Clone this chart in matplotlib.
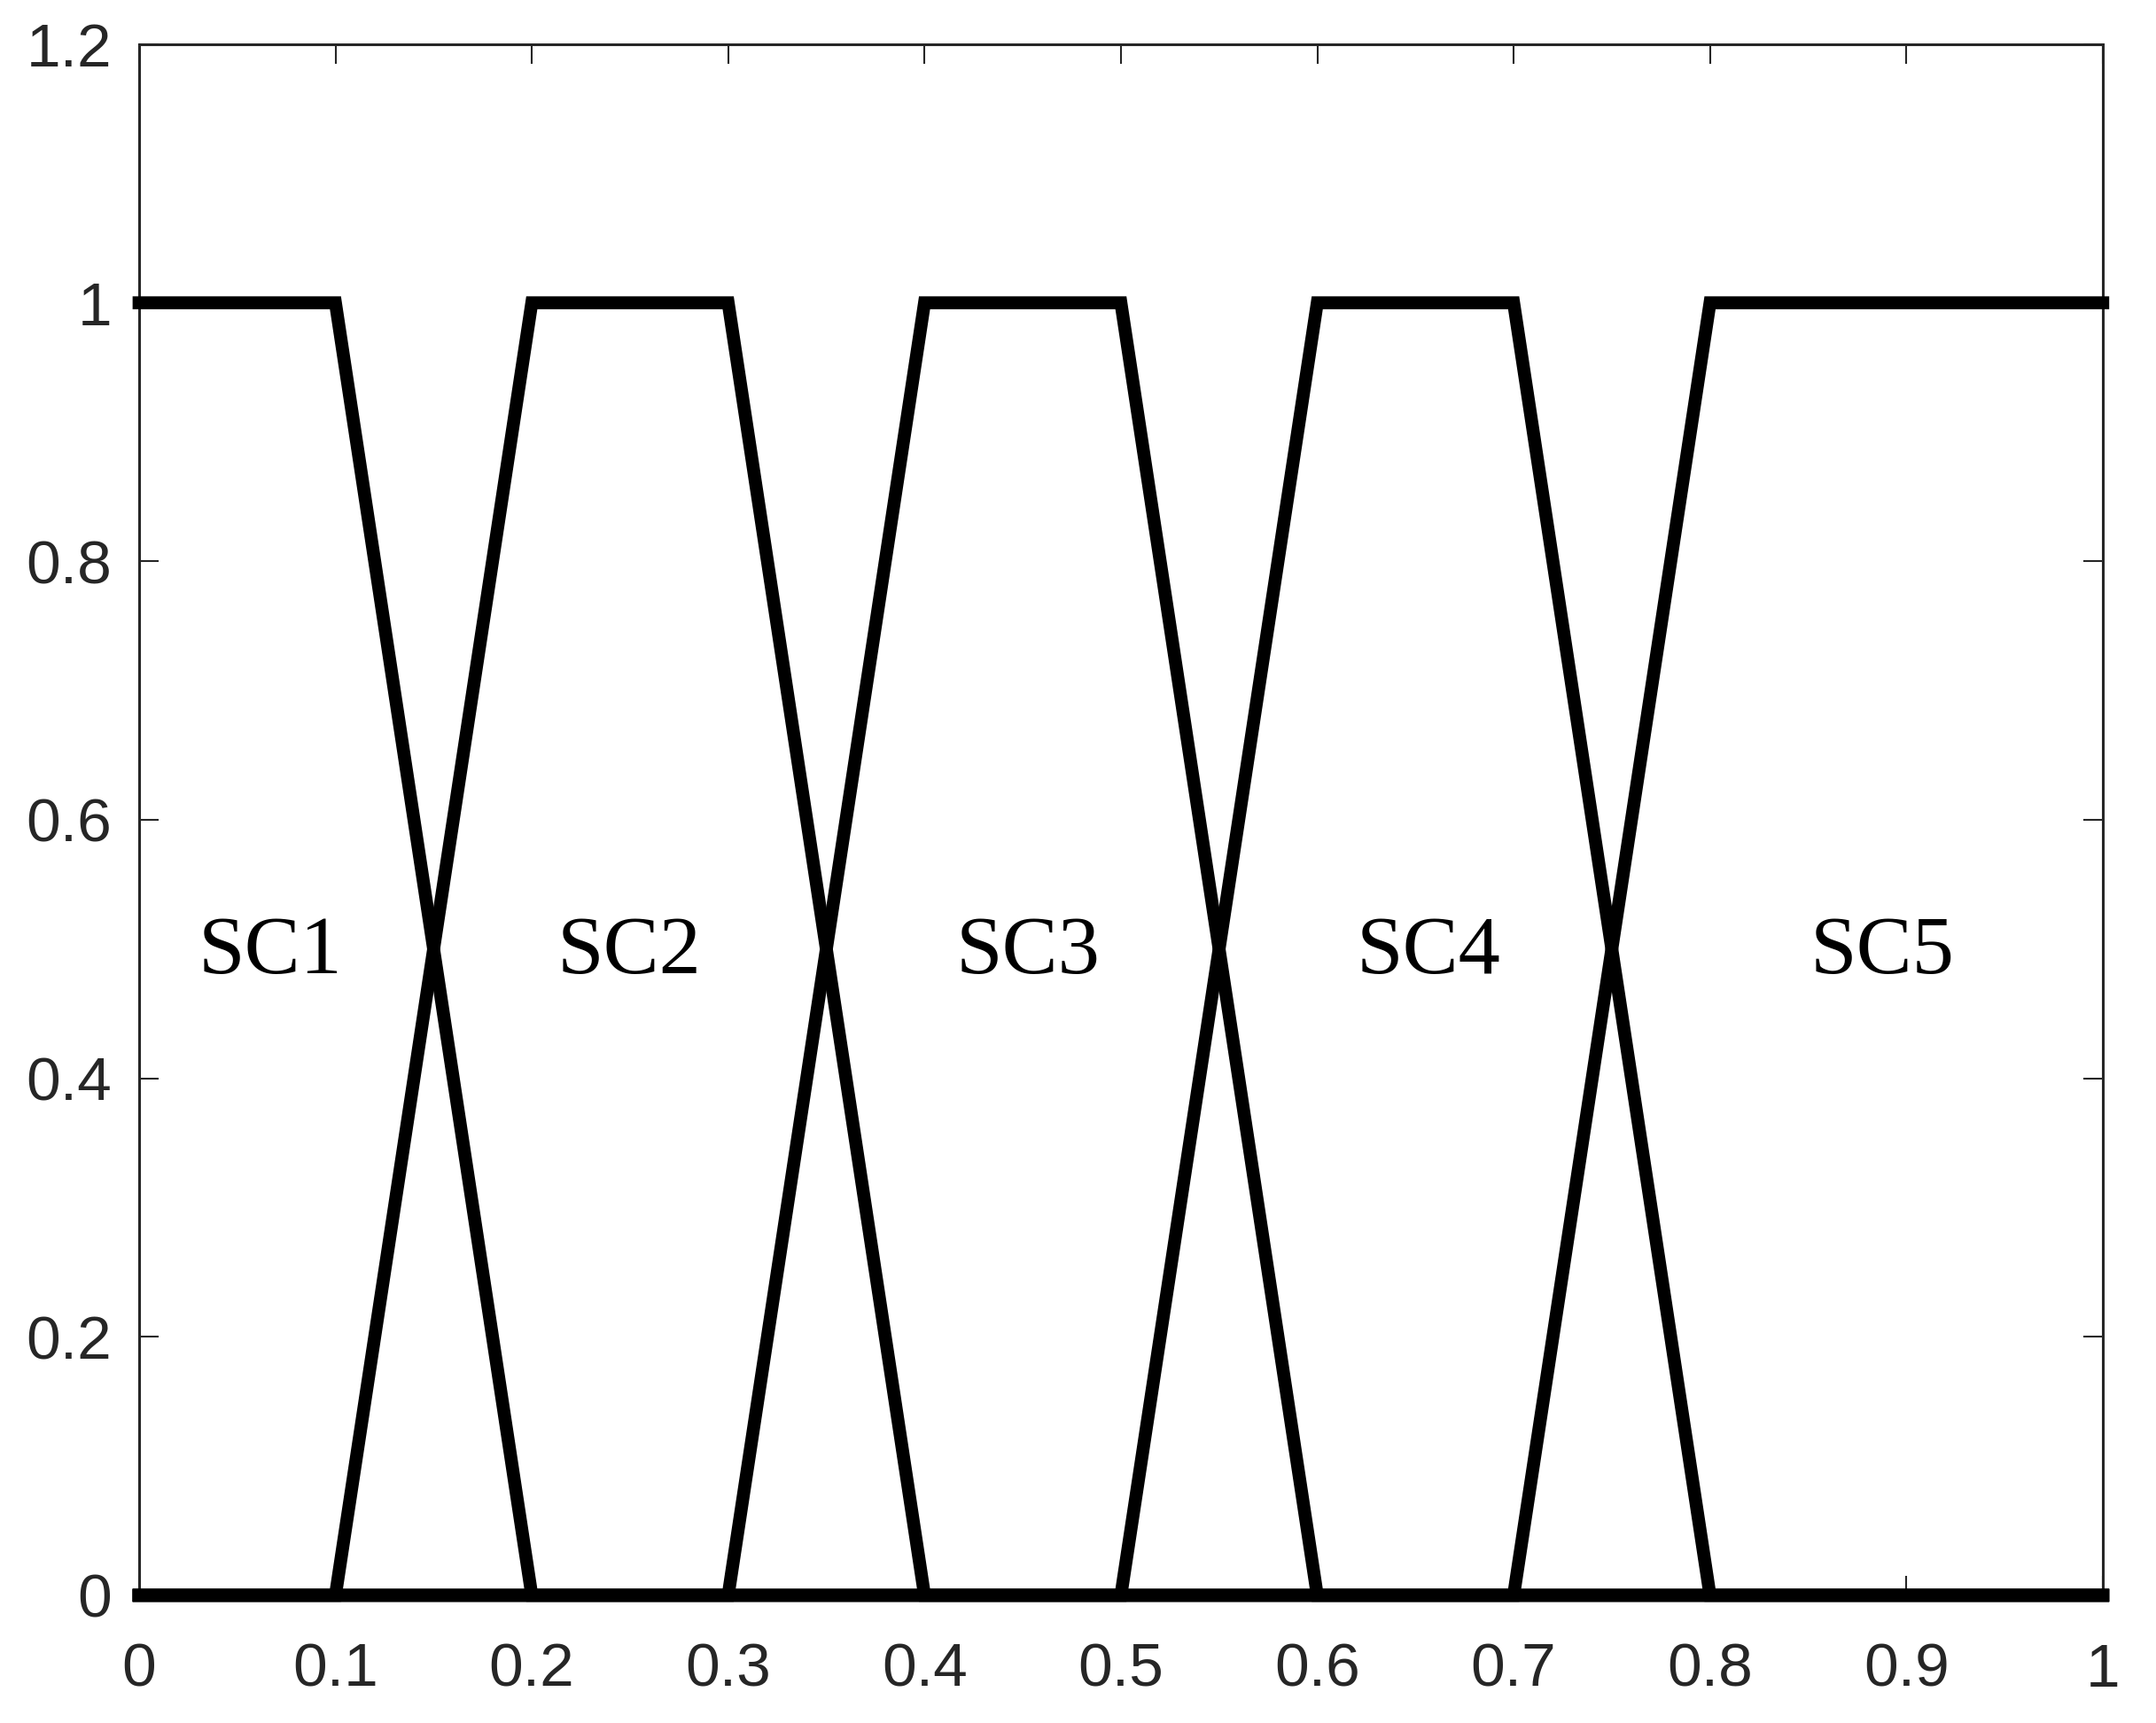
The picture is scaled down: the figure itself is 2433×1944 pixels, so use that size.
import numpy as np
import matplotlib
matplotlib.use('Agg')
import matplotlib.pyplot as plt
from matplotlib.ticker import FuncFormatter

# trapezoid break points for each set (x, membership)
sc_names = ["SC1", "SC2", "SC3", "SC4", "SC5"]
sc_x = [
    [0, 0.1, 0.2, 1],
    [0, 0.1, 0.2, 0.3, 0.4, 1],
    [0, 0.3, 0.4, 0.5, 0.6, 1],
    [0, 0.5, 0.6, 0.7, 0.8, 1],
    [0, 0.7, 0.8, 1],
]
sc_y = [
    [1, 1, 0, 0],
    [0, 0, 1, 1, 0, 0],
    [0, 0, 1, 1, 0, 0],
    [0, 0, 1, 1, 0, 0],
    [0, 0, 1, 1],
]
# left edge of each label, at height 0.5
label_x = [0.030, 0.213, 0.416, 0.620, 0.851]
label_y = 0.497

x_ticks = np.arange(0, 1.01, 0.1)
y_ticks = np.arange(0, 1.21, 0.2)

fig = plt.figure(figsize=(24.33, 19.44), dpi=100)
ax = fig.add_axes([0.0645, 0.0741, 0.9108, 0.9002])

for xs, ys in zip(sc_x, sc_y):
    ax.plot(xs, ys, color="black", lw=10.5, solid_joinstyle="miter", clip_on=False, zorder=3)

for name, lx in zip(sc_names, label_x):
    ax.text(lx, label_y, name, family="Liberation Serif", fontsize=68,
            ha="left", va="center", color="black")

ax.set_xlim(0, 1)
ax.set_ylim(0, 1.2)
ax.set_xticks(x_ticks)
ax.set_yticks(y_ticks)
fmt = FuncFormatter(lambda v, p: "%g" % round(v, 2))
ax.xaxis.set_major_formatter(fmt)
ax.yaxis.set_major_formatter(fmt)

for s in ax.spines.values():
    s.set_linewidth(2.2)
    s.set_color("#262626")

ax.tick_params(direction="in", length=16, width=1.5, color="#262626",
               top=True, right=True, labelsize=50, labelcolor="#262626")
ax.tick_params(axis="x", pad=38)
ax.tick_params(axis="y", pad=22)
for lab in ax.get_xticklabels() + ax.get_yticklabels():
    lab.set_family("Liberation Sans")

fig.savefig("out.png", dpi=100, facecolor="white")
